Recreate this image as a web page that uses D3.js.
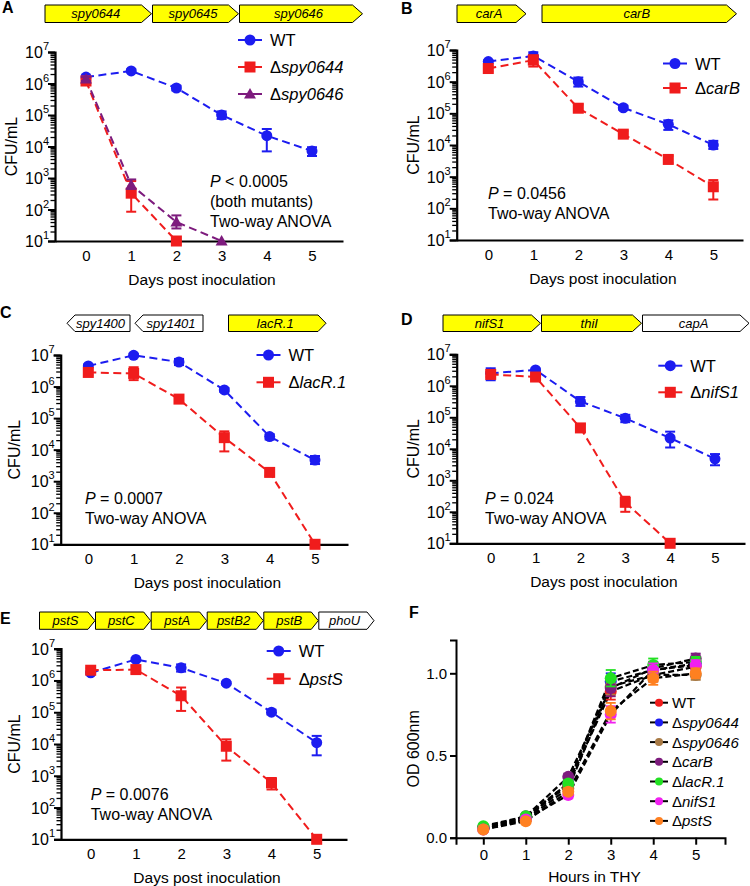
<!DOCTYPE html>
<html><head><meta charset="utf-8">
<script src="https://cdn.jsdelivr.net/npm/d3@7"></script>
<style>body{margin:0;background:#fff}svg{display:block}</style>
</head><body>
<svg id="fig" width="750" height="886"></svg>
<script>
// ---------------- DATA ----------------
const days = [0, 1, 2, 3, 4, 5];
const hours = [0, 1, 2, 3, 4, 5];
const yTickExps = [1, 2, 3, 4, 5, 6, 7];

// Panel A
const aGenes = ["spy0644", "spy0645", "spy0646"];
const aWT = [1.6e6, 2.5e6, 7.2e5, 1.0e5, 2.2e4, 7.2e3];
const aWTerr = [[1.4e6, 1.8e6], [2.3e6, 2.8e6], [6e5, 8.5e5], [7.5e4, 1.3e5], [7e3, 3.6e4], [5e3, 9.5e3]];
const a0644 = [1.2e6, 330, 10, null, null, null];
const a0644err = [[1e6, 1.4e6], [85, 800], null, null, null, null];
const a0646 = [1.4e6, 600, 40, 10, null, null];
const a0646err = [[1.2e6, 1.6e6], [450, 900], [25, 65], null, null, null];
const aNote = ["< 0.0005", "(both mutants)", "Two-way ANOVA"];

// Panel B
const bGenes = ["carA", "carB"];
const bWT = [4.3e6, 6.5e6, 1.0e6, 1.5e5, 4.5e4, 1.0e4];
const bWTerr = [[3.9e6, 4.7e6], [5.5e6, 8.5e6], [7e5, 1.35e6], [1.3e5, 1.75e5], [3e4, 6e4], [7.5e3, 1.35e4]];
const bCarB = [2.6e6, 4.8e6, 1.45e5, 2.2e4, 3.5e3, 480];
const bCarBerr = [[2.1e6, 3.1e6], [3e6, 6.8e6], [1.1e5, 1.9e5], [1.8e4, 2.8e4], [2.7e3, 4.5e3], [190, 780]];
const bNote = ["= 0.0456", "Two-way ANOVA"];

// Panel C
const cGenes = ["spy1400", "spy1401", "lacR.1"];
const cWT = [4.5e6, 9.8e6, 6e6, 7.8e5, 2.6e4, 4.7e3];
const cWTerr = [[4e6, 5e6], [8.5e6, 1.1e7], [4.8e6, 7.5e6], [6.8e5, 9e5], [2.1e4, 3.1e4], [3.5e3, 6.3e3]];
const cLacR = [2.8e6, 2.6e6, 4e5, 2.4e4, 1.9e3, 10];
const cLacRerr = [[2.3e6, 3.3e6], [1.6e6, 4.1e6], [3.2e5, 5e5], [8.8e3, 3.8e4], [1.5e3, 2.5e3], null];
const cNote = ["= 0.0007", "Two-way ANOVA"];

// Panel D
const dGenes = ["nifS1", "thiI", "capA"];
const dWT = [2.5e6, 3.2e6, 3.2e5, 9.3e4, 2.2e4, 4.8e3];
const dWTerr = [[1.5e6, 3.6e6], [2.9e6, 3.5e6], [2.3e5, 4.4e5], [7e4, 1.2e5], [1.1e4, 3.5e4], [3e3, 6.8e3]];
const dNifS = [2.3e6, 1.9e6, 4.6e4, 200, 10, null];
const dNifSerr = [[1.9e6, 2.8e6], [1.6e6, 2.2e6], [3.5e4, 6e4], [100, 300], null, null];
const dNote = ["= 0.024", "Two-way ANOVA"];

// Panel E
const eGenes = ["pstS", "pstC", "pstA", "pstB2", "pstB", "phoU"];
const eWT = [1.75e6, 4.6e6, 2.5e6, 8.2e5, 1.0e5, 1.1e4];
const eWTerr = [[1.6e6, 1.9e6], [4.1e6, 5.1e6], [1.9e6, 3.2e6], [7.4e5, 9e5], [8.5e4, 1.2e5], [4.4e3, 1.8e4]];
const ePstS = [2.1e6, 2.2e6, 3.3e5, 8.5e3, 600, 10];
const ePstSerr = [[1.8e6, 2.4e6], [1.7e6, 2.8e6], [1.1e5, 6e5], [3e3, 1.4e4], [370, 850], null];
const eNote = ["= 0.0076", "Two-way ANOVA"];

// Panel F (OD600 growth)
const fNames = ["WT", "spy0644", "spy0646", "carB", "lacR.1", "nifS1", "pstS"];
const fWT = [0.06, 0.12, 0.32, 0.89, 0.99, 1.04];
const f0644 = [0.06, 0.12, 0.33, 0.95, 1.02, 1.06];
const f0646 = [0.05, 0.11, 0.30, 0.92, 0.99, 0.99];
const fCarB = [0.06, 0.13, 0.37, 0.91, 1.03, 1.09];
const fLacR = [0.07, 0.13, 0.33, 0.97, 1.05, 1.07];
const fNifS = [0.05, 0.11, 0.26, 0.75, 1.02, 1.05];
const fPstS = [0.05, 0.10, 0.28, 0.77, 0.97, 1.00];
const fSD = [0.01, 0.01, 0.02, 0.05, 0.04, 0.03];
const fYTicks = [0.0, 0.5, 1.0];

// ---------------- STYLE / LAYOUT ----------------
const FONT = "'Liberation Sans', Arial, Helvetica, sans-serif";
const BLUE = "#1c1cf0", RED = "#f01c1c", PURPLE = "#7d1b7d";
const fColors = ["#f01c1c", "#1c1cf0", "#a87a45", "#7d1b7d", "#22e022", "#f020f0", "#ff8020"];
const YELLOW = "#ffff00";

const svg = d3.select("#fig").style("font-family", FONT);

function mkText(g, x, y, size, anchor) {
  return g.append("text").attr("x", x).attr("y", y).attr("font-size", size)
    .attr("text-anchor", anchor || "start").attr("fill", "#000");
}

function drawMarker(g, shape, x, y, color, s) {
  s = s || 1;
  if (shape === "circle") {
    g.append("circle").attr("cx", x).attr("cy", y).attr("r", 5.5 * s).attr("fill", color);
  } else if (shape === "square") {
    const h = 5.5 * s;
    g.append("rect").attr("x", x - h).attr("y", y - h).attr("width", 2 * h).attr("height", 2 * h).attr("fill", color);
  } else {
    const h = 6 * s;
    g.append("path").attr("d", `M${x},${y - h}L${x + h},${y + h * 0.75}L${x - h},${y + h * 0.75}Z`).attr("fill", color);
  }
}

function drawGenes(g, genes, boxes, y0, y1, tip) {
  genes.forEach((name, i) => {
    const b = boxes[i];
    const ym = (y0 + y1) / 2;
    let d;
    if (b.dir === "L") {
      d = `M${b.x1},${y0}L${b.x0 + tip},${y0}L${b.x0},${ym}L${b.x0 + tip},${y1}L${b.x1},${y1}Z`;
    } else {
      d = `M${b.x0},${y0}L${b.x1 - tip},${y0}L${b.x1},${ym}L${b.x1 - tip},${y1}L${b.x0},${y1}Z`;
    }
    g.append("path").attr("d", d).attr("fill", b.fill).attr("stroke", "#000").attr("stroke-width", 1);
    const cx = b.dir === "L" ? (b.x0 + tip / 2 + b.x1) / 2 : (b.x0 + b.x1 - tip / 2) / 2;
    mkText(g, cx, ym + 4.5, 13, "middle").attr("font-style", "italic").text(name);
  });
}

function deltaLabel(t, name) {
  if (name === "WT") { t.text("WT"); return; }
  t.append("tspan").text("\u0394");
  t.append("tspan").attr("font-style", "italic").text(name);
}

function logPanel(cfg) {
  const g = svg.append("g");
  const x = d3.scaleLinear().domain([0, 5]).range([cfg.x0, cfg.x5]);
  const xa = d3.scaleLinear().domain([x.invert(cfg.axX), x.invert(cfg.axEnd)]).range([cfg.axX, cfg.axEnd]);
  const y = d3.scaleLog().domain([10, 1e7]).range([cfg.yBot, cfg.yTop]);

  // panel letter
  mkText(g, cfg.letter[1], cfg.letter[2], 16).attr("font-weight", "bold").text(cfg.letter[0]);

  drawGenes(g, cfg.genes, cfg.geneBoxes, cfg.geneY[0], cfg.geneY[1], cfg.tip);

  // minor ticks
  const minors = [];
  for (let e = 1; e < 7; e++) for (let k = 2; k <= 9; k++) minors.push(k * Math.pow(10, e));
  g.append("g").attr("transform", `translate(${cfg.axX},0)`)
    .call(d3.axisLeft(y).tickValues(minors).tickSize(4.5).tickFormat(""))
    .call(s => s.select(".domain").remove())
    .call(s => s.selectAll("line").attr("stroke", "#000").attr("stroke-width", 1.3));
  // major ticks
  const majors = yTickExps.map(e => Math.pow(10, e));
  g.append("g").attr("transform", `translate(${cfg.axX},0)`)
    .call(d3.axisLeft(y).tickValues(majors).tickSize(7).tickFormat(""))
    .call(s => s.select(".domain").attr("stroke", "#000").attr("stroke-width", 2.2))
    .call(s => s.selectAll("line").attr("stroke", "#000").attr("stroke-width", 2));
  yTickExps.forEach(e => {
    const t = mkText(g, cfg.axX - 6, y(Math.pow(10, e)) + 6, 16, "end");
    t.append("tspan").text("10");
    t.append("tspan").attr("dy", -8).attr("font-size", 11).text(e);
  });
  // x axis
  g.append("g").attr("transform", `translate(0,${cfg.yBot})`)
    .call(d3.axisBottom(xa).tickValues(days).tickSize(0).tickPadding(9).tickFormat(d3.format("d")))
    .call(s => s.select(".domain").attr("stroke", "#000").attr("stroke-width", 2.2))
    .call(s => s.selectAll("text").attr("font-size", 15).attr("font-family", FONT).attr("fill", "#000"));
  // titles
  mkText(g, (cfg.axX + cfg.axEnd) / 2 + 3, cfg.yBot + 44, 15.5, "middle").text("Days post inoculation");
  mkText(g, 0, 0, 16, "middle").attr("transform", `translate(${cfg.ylabX},${(cfg.yTop + cfg.yBot) / 2}) rotate(-90)`).text("CFU/mL");

  // series
  cfg.series.forEach(sr => {
    const pts = days.map((d, i) => ({ d, v: sr.values[i], e: sr.err[i] })).filter(p => p.v != null);
    g.append("path").datum(pts)
      .attr("d", d3.line().x(p => x(p.d)).y(p => y(p.v)))
      .attr("fill", "none").attr("stroke", sr.color).attr("stroke-width", 2).attr("stroke-dasharray", "8,4.5");
  });
  cfg.series.forEach(sr => {
    days.forEach((d, i) => {
      const e = sr.err[i];
      if (e) {
        const cx = x(d);
        g.append("line").attr("x1", cx).attr("x2", cx).attr("y1", y(e[0])).attr("y2", y(e[1]))
          .attr("stroke", sr.color).attr("stroke-width", 2);
        [e[0], e[1]].forEach(v => g.append("line").attr("x1", cx - 5).attr("x2", cx + 5)
          .attr("y1", y(v)).attr("y2", y(v)).attr("stroke", sr.color).attr("stroke-width", 2));
      }
      if (sr.values[i] != null) drawMarker(g, sr.shape, x(d), y(sr.values[i]), sr.color);
    });
  });

  // legend
  cfg.series.forEach((sr, i) => {
    const ly = cfg.leg.y + i * cfg.leg.dy;
    g.append("line").attr("x1", cfg.leg.x).attr("x2", cfg.leg.x + 24).attr("y1", ly).attr("y2", ly)
      .attr("stroke", sr.color).attr("stroke-width", 2);
    drawMarker(g, sr.shape, cfg.leg.x + 12, ly, sr.color);
    deltaLabel(mkText(g, cfg.leg.x + 32, ly + 6, 16.5), sr.name);
  });

  // annotation
  cfg.note.forEach((line, i) => {
    const t = mkText(g, cfg.noteXY[0], cfg.noteXY[1] + i * 20, 16);
    if (i === 0) { t.append("tspan").attr("font-style", "italic").text("P"); t.append("tspan").text(" " + line); }
    else t.text(line);
  });
}

// ---------------- PANELS ----------------
logPanel({
  letter: ["A", 2, 13], genes: aGenes, tip: 10, geneY: [5, 22.5],
  geneBoxes: [{ x0: 45, x1: 151.5, fill: YELLOW }, { x0: 152.5, x1: 238.5, fill: YELLOW }, { x0: 239.5, x1: 362.5, fill: YELLOW }],
  axX: 55, axEnd: 343, x0: 86, x5: 312, yTop: 52, yBot: 241, ylabX: 17,
  series: [
    { name: "WT", color: BLUE, shape: "circle", values: aWT, err: aWTerr },
    { name: "spy0644", color: RED, shape: "square", values: a0644, err: a0644err },
    { name: "spy0646", color: PURPLE, shape: "triangle", values: a0646, err: a0646err }],
  leg: { x: 238, y: 40, dy: 27 }, note: aNote, noteXY: [210, 187]
});

logPanel({
  letter: ["B", 401, 14], genes: bGenes, tip: 10, geneY: [5, 22.5],
  geneBoxes: [{ x0: 457, x1: 526, fill: YELLOW }, { x0: 542, x1: 736.5, fill: YELLOW }],
  axX: 456.7, axEnd: 743, x0: 488.3, x5: 713.3, yTop: 50, yBot: 240, ylabX: 419,
  series: [
    { name: "WT", color: BLUE, shape: "circle", values: bWT, err: bWTerr },
    { name: "carB", color: RED, shape: "square", values: bCarB, err: bCarBerr }],
  leg: { x: 663, y: 63.5, dy: 24.5 }, note: bNote, noteXY: [488, 199]
});

logPanel({
  letter: ["C", 0, 318], genes: cGenes, tip: 8, geneY: [315, 331.5],
  geneBoxes: [{ x0: 67, x1: 130, fill: "#fff", dir: "L" }, { x0: 135, x1: 203, fill: "#fff", dir: "L" }, { x0: 228.5, x1: 326, fill: YELLOW }],
  axX: 60.7, axEnd: 348, x0: 88.3, x5: 315, yTop: 355, yBot: 544.3, ylabX: 20,
  series: [
    { name: "WT", color: BLUE, shape: "circle", values: cWT, err: cWTerr },
    { name: "lacR.1", color: RED, shape: "square", values: cLacR, err: cLacRerr }],
  leg: { x: 256.5, y: 355, dy: 27.3 }, note: cNote, noteXY: [85, 504]
});

logPanel({
  letter: ["D", 401, 325], genes: dGenes, tip: 9, geneY: [315, 331.5],
  geneBoxes: [{ x0: 443, x1: 540.5, fill: YELLOW }, { x0: 541.5, x1: 641.5, fill: YELLOW }, { x0: 642.5, x1: 749, fill: "#fff" }],
  axX: 456.7, axEnd: 745, x0: 490.7, x5: 715, yTop: 354.3, yBot: 543.3, ylabX: 419,
  series: [
    { name: "WT", color: BLUE, shape: "circle", values: dWT, err: dWTerr },
    { name: "nifS1", color: RED, shape: "square", values: dNifS, err: dNifSerr }],
  leg: { x: 658.3, y: 365.7, dy: 26.6 }, note: dNote, noteXY: [485, 504]
});

logPanel({
  letter: ["E", 0, 624], genes: eGenes, tip: 7, geneY: [612, 629.3],
  geneBoxes: [{ x0: 39.5, x1: 95, fill: YELLOW }, { x0: 95.5, x1: 150.7, fill: YELLOW }, { x0: 151.2, x1: 206.7, fill: YELLOW },
    { x0: 207.2, x1: 263.3, fill: YELLOW }, { x0: 263.8, x1: 318.3, fill: YELLOW }, { x0: 318.8, x1: 374, fill: "#fff" }],
  axX: 61, axEnd: 347, x0: 90.7, x5: 316.7, yTop: 648.7, yBot: 839.3, ylabX: 20,
  series: [
    { name: "WT", color: BLUE, shape: "circle", values: eWT, err: eWTerr },
    { name: "pstS", color: RED, shape: "square", values: ePstS, err: ePstSerr }],
  leg: { x: 266.7, y: 651, dy: 27.7 }, note: eNote, noteXY: [90.7, 800]
});

// Panel F
(function () {
  const g = svg.append("g");
  const axX = 456, axEnd = 725, yBot = 837.7, yTop = 640;
  const x = d3.scaleLinear().domain([0, 5]).range([483.3, 695.7]);
  const xa = d3.scaleLinear().domain([x.invert(axX), x.invert(axEnd)]).range([axX, axEnd]);
  const y = d3.scaleLinear().domain([0, 1]).range([yBot, 673.3]);
  const ya = d3.scaleLinear().domain([0, y.invert(yTop)]).range([yBot, yTop]);

  mkText(g, 409, 618, 16).attr("font-weight", "bold").text("F");

  g.append("g").attr("transform", `translate(${axX},0)`)
    .call(d3.axisLeft(ya).tickValues(fYTicks).tickSize(6).tickPadding(3).tickFormat(d3.format(".1f")))
    .call(s => s.select(".domain").attr("stroke", "#000").attr("stroke-width", 2))
    .call(s => s.selectAll("line").attr("stroke", "#000").attr("stroke-width", 2))
    .call(s => s.selectAll("text").attr("font-size", 15).attr("font-family", FONT).attr("fill", "#000"));
  g.append("g").attr("transform", `translate(0,${yBot})`)
    .call(d3.axisBottom(xa).tickValues(hours).tickSize(7).tickPadding(5).tickFormat(d3.format("d")))
    .call(s => s.select(".domain").attr("stroke", "#000").attr("stroke-width", 2))
    .call(s => s.selectAll("line").attr("stroke", "#000").attr("stroke-width", 2))
    .call(s => s.selectAll("text").attr("font-size", 15).attr("font-family", FONT).attr("fill", "#000"));

  mkText(g, (axX + axEnd) / 2 + 4, 882, 15.5, "middle").text("Hours in THY");
  mkText(g, 0, 0, 16, "middle").attr("transform", `translate(419,${(yTop + yBot) / 2 + 10}) rotate(-90)`).text("OD 600nm");

  const series = [fWT, f0644, f0646, fCarB, fLacR, fNifS, fPstS];
  series.forEach(vals => {
    g.append("path").datum(vals)
      .attr("d", d3.line().x((v, i) => x(hours[i])).y(v => y(v)))
      .attr("fill", "none").attr("stroke", "#000").attr("stroke-width", 2.2).attr("stroke-dasharray", "6,3");
  });
  series.forEach((vals, k) => {
    vals.forEach((v, i) => {
      const cx = x(hours[i]), sd = fSD[i];
      if (sd > 0.015) {
        g.append("line").attr("x1", cx).attr("x2", cx).attr("y1", y(v - sd)).attr("y2", y(v + sd))
          .attr("stroke", fColors[k]).attr("stroke-width", 1.8);
        [v - sd, v + sd].forEach(w => g.append("line").attr("x1", cx - 5).attr("x2", cx + 5)
          .attr("y1", y(w)).attr("y2", y(w)).attr("stroke", fColors[k]).attr("stroke-width", 1.8));
      }
      g.append("circle").attr("cx", cx).attr("cy", y(v)).attr("r", 6).attr("fill", fColors[k]);
    });
  });

  fNames.forEach((n, i) => {
    const ly = 702.7 + i * 19.7;
    g.append("line").attr("x1", 650).attr("x2", 668).attr("y1", ly).attr("y2", ly).attr("stroke", "#000").attr("stroke-width", 2);
    g.append("circle").attr("cx", 659).attr("cy", ly).attr("r", 4).attr("fill", fColors[i]);
    deltaLabel(mkText(g, 672, ly + 5.5, 15), n);
  });
})();
</script>
</body></html>
